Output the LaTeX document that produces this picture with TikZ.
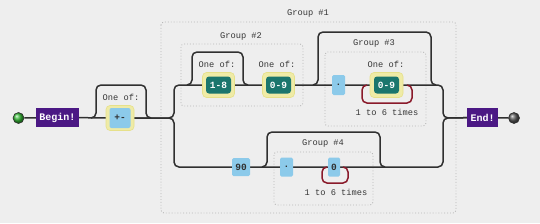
\documentclass[tikz,border=0pt]{standalone}
\usepackage{fontspec}
\setmonofont{Liberation Mono}
\pgfdeclarelayer{back}\pgfdeclarelayer{lines}\pgfsetlayers{back,lines,main}
\definecolor{bgc}{HTML}{EEEEEE}
\definecolor{linec}{HTML}{303030}
\definecolor{grpc}{HTML}{B8B8B8}
\definecolor{purp}{HTML}{4B1884}
\definecolor{tealc}{HTML}{1B766D}
\definecolor{litc}{HTML}{8CCAEA}
\definecolor{haloc}{HTML}{EFEBA6}
\definecolor{haloe}{HTML}{E6E08A}
\definecolor{redc}{HTML}{8A1A2A}
\definecolor{txtc}{HTML}{383838}
\tikzset{
  lbl/.style={font=\ttfamily\fontsize{8.7}{9}\selectfont, text=txtc, inner sep=0},
  grp/.style={draw=grpc, dotted, line width=0.9pt, rounded corners=3},
  wire/.style={draw=linec, line width=1.5pt, rounded corners=5},
  rep/.style={draw=redc, line width=1.5pt, rounded corners=5},
  term/.style={fill=purp, text=white, font=\ttfamily\bfseries\fontsize{10}{11}\selectfont, inner sep=0, minimum height=19pt},
  halo/.style={fill=haloc, draw=haloe, line width=0.6pt, rounded corners=4, minimum width=32pt, minimum height=25pt, inner sep=0},
  cset/.style={fill=tealc, text=white, rounded corners=3, font=\ttfamily\bfseries\fontsize{9.5}{10}\selectfont, minimum width=25pt, minimum height=17pt, inner sep=0},
  lit/.style={fill=litc, text=linec, rounded corners=1.5, font=\ttfamily\bfseries\fontsize{9.5}{10}\selectfont, minimum height=19pt, inner sep=0},
  endball/.style={circle, draw=linec, line width=0.6pt, minimum size=11pt, inner sep=0}
}
\begin{document}
\begin{tikzpicture}[x=1pt,y=-1pt]
\begin{pgfonlayer}{back}
  \fill[bgc] (0,0) rectangle (540,223);
  \draw[grp] (161,22) rectangle (456,213);
  \draw[grp] (181,44) rectangle (303,106);
  \draw[grp] (325,52) rectangle (426,126);
  \draw[grp] (274,152) rectangle (373,205);
\end{pgfonlayer}
\useasboundingbox (0,0) rectangle (540,223);
% labels
\node[lbl] (g1) at (308,13) {Group \#1};
\node[lbl] (g2) at (241,36) {Group \#2};
\node[lbl] (g3) at (374,43) {Group \#3};
\node[lbl] (g4) at (323,143) {Group \#4};
\node[lbl] (o1) at (121,97) {One of:};
\node[lbl] (o2) at (217,64) {One of:};
\node[lbl] (o3) at (277,64) {One of:};
\node[lbl] (o4) at (386,64) {One of:};
\node[lbl] (t3) at (387,112) {1 to 6 times};
\node[lbl] (t4) at (336,192) {1 to 6 times};
% terminals
\node[endball, ball color=green!65!black!80!white] (start) at (18.5,118) {};
\node[term, minimum width=43pt] (begin) at (57.5,117.5) {Begin!};
\node[term, minimum width=31pt] (end) at (482.5,117.5) {End!};
\node[endball, ball color=gray!70!black] (stop) at (514,118) {};
% +- 
\node[halo, minimum width=28pt] (pmh) at (120,118) {};
\node[lit, minimum width=21pt, minimum height=20pt, rounded corners=2] (pm) at (120,118) {+-};
% group 2
\node[halo] (h18) at (218.5,85) {};
\node[cset] (b18) at (218.5,85) {1-8};
\node[halo] (h09) at (278.5,85) {};
\node[cset] (b09) at (278.5,85) {0-9};
% group 3
\node[lit, minimum width=13pt, minimum height=20pt] (dot3) at (338.5,85) {.};
\node[halo, minimum width=33pt] (h093) at (386.5,85) {};
\node[cset] (b093) at (386.5,85) {0-9};
% lower branch
\node[lit, minimum width=18pt, minimum height=18pt] (b90) at (241,167) {90};
\node[lit, minimum width=13pt] (dot4) at (286.5,167) {.};
\node[lit, minimum width=12pt] (b04) at (334,167) {0};
\coordinate (split) at (174,118);
\coordinate (merge) at (443,118);
\begin{pgfonlayer}{lines}
  \draw[wire] (start) -- (begin) -- (pm);
  \draw[wire] (pm) -- (split) -- (split |- b18) -- (b18) -- (b09) -- (dot3) -- (b093) -- (merge |- b093) -- (merge) -- (end);
  \draw[wire] (pm) -- (split) -- (split |- b90) -- (b90) -- (dot4) -- (b04) -- (merge |- b04) -- (merge) -- (end);
  \draw[wire] (end) -- (stop);
  % skip loops
  \draw[wire] (91,118) -- (96,118) -- (96,85) -- (146,85) -- (146,118) -- (151,118);
  \draw[wire] (187,85) -- (192,85) -- (192,52) -- (243,52) -- (243,85) -- (248,85);
  \draw[wire] (313,85) -- (318,85) -- (318,32) -- (431,32) -- (431,85) -- (436,85);
  \draw[wire] (262,167) -- (267,167) -- (267,132) -- (380,132) -- (380,167) -- (385,167);
  % repeat loops
  \draw[rep] (407,85) -- (412,85) -- (412,103) -- (362,103) -- (362,85) -- (367,85);
  \draw[rep] (343,167) -- (348,167) -- (348,183) -- (322,183) -- (322,167) -- (327,167);
\end{pgfonlayer}
\end{tikzpicture}
\end{document}
